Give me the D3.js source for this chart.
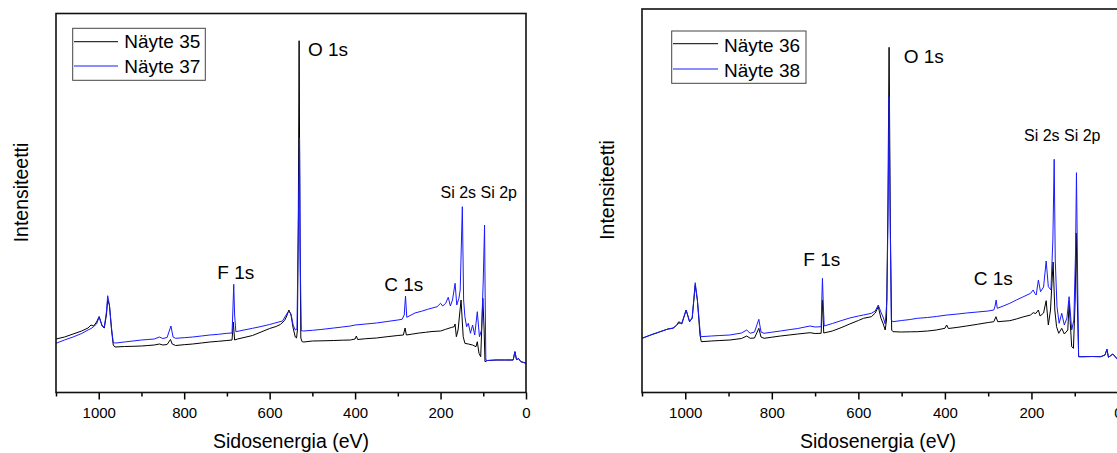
<!DOCTYPE html>
<html><head><meta charset="utf-8">
<script src="https://cdn.jsdelivr.net/npm/d3@7"></script>
<style>
html,body{margin:0;padding:0;background:#fff;}
svg{display:block;font-family:"Liberation Sans",Arial,sans-serif;}
</style></head>
<body>
<svg id="chart" width="1117" height="453"></svg>
<script>
// ---------- DATA (binding energy eV, intensity counts) ----------
const majorTicks = [1000, 800, 600, 400, 200, 0];
const minorTicks = [1100, 900, 700, 500, 300, 100];
const xTitle = "Sidosenergia (eV)";
const yTitle = "Intensiteetti";
const peakNames = ["O 1s", "F 1s", "C 1s", "Si 2s Si 2p"];
const seriesNamesLeft = ["Näyte 35", "Näyte 37"];
const seriesNamesRight = ["Näyte 36", "Näyte 38"];

const sample35 = [[1100,5350],[1080,5550],[1060,5850],[1040,6150],[1025,6450],[1018,6750],[1012,6650],[1005,7050],[999,7600],[992,6650],[987,6450],[982,7750],[979,9250],[975,8750],[970,6250],[966,4750],[962,4550],[940,4600],[920,4620],[900,4650],[885,4700],[870,4750],[858,4850],[850,4750],[840,4800],[832,5300],[828,4850],[820,4700],[800,4780],[780,4850],[760,4950],[740,5050],[720,5120],[700,5200],[688,5250],[685,7050],[682,5250],[675,5350],[660,5500],[640,5700],[620,6050],[600,6400],[585,6600],[575,6800],[565,7200],[560,7650],[555,8250],[550,7750],[545,6450],[540,5550],[537,5450],[535,6250],[533,16250],[531,35180],[529,15250],[527,5450],[524,5080],[520,5050],[500,5150],[475,5170],[450,5200],[430,5230],[411,5250],[400,5350],[397,5650],[394,5300],[375,5380],[350,5450],[325,5580],[300,5700],[287,5750],[283,6450],[280,5750],[265,5850],[250,5950],[235,6020],[220,6100],[200,6150],[188,6320],[175,6500],[168,6580],[166,6850],[163,5580],[159,6250],[152,9250],[147,5580],[143,4920],[135,4850],[125,4750],[117,4580],[114,5080],[110,3920],[106,3580],[101,9420],[98,6250],[96,3080],[90,3200],[70,3250],[50,3250],[30,3250],[26,4080],[22,3250],[18,3420],[12,3080],[5,3000],[0,2920]];

const sample37 = [[1100,4920],[1080,5250],[1060,5550],[1040,5900],[1025,6250],[1016,6450],[1005,6850],[999,7550],[992,6650],[987,6550],[982,8050],[979,9680],[975,8750],[970,6450],[966,4980],[960,4950],[940,5050],[920,5150],[900,5250],[885,5300],[870,5350],[858,5550],[850,5400],[840,5500],[831,6650],[826,5550],[820,5420],[800,5480],[780,5550],[760,5650],[740,5750],[720,5820],[700,5920],[688,5950],[686,8250],[684,10820],[682,7750],[679,6080],[660,6250],[640,6420],[620,6600],[600,6800],[590,6920],[570,7150],[560,7850],[555,8150],[550,7850],[545,6750],[540,6250],[536,6350],[534,13250],[530,25450],[528,12250],[526,6180],[520,6150],[500,6220],[480,6300],[450,6450],[430,6550],[411,6650],[400,6750],[375,6850],[350,6950],[325,7100],[300,7250],[290,7320],[285,7750],[282,9650],[279,7520],[260,7950],[245,8120],[230,8320],[208,8580],[200,8920],[195,8650],[188,8920],[182,9520],[177,8650],[172,9250],[166,10920],[162,8750],[157,9420],[154,10250],[149,18580],[146,9250],[143,7580],[139,6580],[135,6920],[130,5920],[125,6750],[120,5750],[114,8080],[109,5580],[104,6250],[100,11250],[97,16750],[95.5,9250],[94,3250],[90,3200],[70,3250],[50,3250],[30,3250],[26,4080],[22,3250],[18,3420],[12,3080],[5,3000],[0,2920]];

const sample36 = [[1100,5420],[1080,5750],[1060,6050],[1040,6350],[1028,6450],[1020,6720],[1015,7080],[1008,6850],[998,8250],[990,7080],[984,7450],[977,10750],[972,9250],[966,5750],[963,5080],[940,5150],[920,5200],[897,5250],[870,5400],[858,5650],[850,5420],[840,5450],[830,6420],[825,5550],[818,5420],[800,5530],[780,5650],[760,5750],[740,5850],[712,5980],[700,5900],[686,5920],[683,9250],[680,5950],[660,6150],[640,6480],[620,6850],[600,7200],[588,7420],[570,7580],[561,7950],[554,8580],[548,7450],[543,6920],[538,6250],[535,7250],[532,17250],[529,34520],[526,16250],[523,6250],[520,6080],[500,6050],[480,6070],[464,6080],[440,6150],[420,6250],[400,6420],[396,6750],[392,6400],[370,6520],[350,6650],[325,6820],[300,7000],[287,7080],[282,7580],[278,7080],[250,7180],[235,7350],[220,7550],[202,7750],[196,7980],[190,7900],[184,8250],[180,7650],[172,7950],[166,9180],[161,6750],[156,8250],[150,13050],[146,8250],[142,6580],[137,5920],[130,6420],[124,5850],[116,6250],[113,8920],[107,4580],[103,4420],[99,9250],[96.5,15950],[94,9250],[91,3580],[80,3580],[60,3600],[40,3580],[30,3750],[25.6,4320],[22,3520],[12,3850],[1,3320],[0,3300]];

const sample38 = [[1100,5420],[1080,5750],[1060,6050],[1040,6350],[1028,6420],[1015,6920],[1008,6950],[998,8250],[990,7080],[984,7450],[977,10980],[972,9250],[966,6250],[964,5580],[940,5650],[920,5700],[897,5750],[870,5950],[858,6250],[850,5920],[840,6050],[830,7320],[825,6050],[818,5920],[800,6030],[780,6150],[760,6280],[740,6400],[712,6650],[700,6550],[686,6580],[684.5,9250],[683,11420],[681,8750],[679,6650],[660,6900],[640,7180],[620,7450],[600,7650],[588,7750],[570,7920],[561,8150],[554,8750],[548,8050],[542,7450],[538,6850],[534,9250],[531,19250],[529,29580],[527,19250],[524,7250],[520,7080],[500,7200],[480,7300],[464,7420],[440,7500],[420,7600],[395,7750],[370,7850],[350,7950],[325,8050],[300,8150],[287,8250],[284,8650],[281.6,9250],[279,8420],[265,8650],[250,8920],[235,9250],[220,9550],[202,9920],[196,10250],[192,9900],[189,9750],[184,11250],[179,10080],[172,10550],[166,13150],[161,10580],[155,10250],[150.5,15250],[147.5,23320],[145,13250],[141,8580],[136,6920],[130,7920],[124,6750],[118,7450],[113,9580],[107,6250],[102,7250],[98,14250],[96,21980],[93,10250],[91,3580],[80,3580],[60,3600],[40,3580],[30,3750],[25.6,4320],[22,3520],[12,3850],[1,3320],[0,3300]];

// ---------- DRAWING ----------
const svg = d3.select("#chart");
const panels = [
  {x0:56, x1:526, yTop:13.5, yMax:37900, series:[sample35, sample37], names:seriesNamesLeft,
   legend:{x:72.7, y:28.3, w:132.6, h:52, lx0:74, lx1:118, ly:[41.7,66], tx:124.3, ty:[48.3,73.3]},
   ytx:27.5, yty:192.5,
   labels:[[308,56,19],[217.3,279,19],[384.3,290.5,19],[440.5,198,16]]},
  {x0:642, x1:1118, yTop:9, yMax:38350, series:[sample36, sample38], names:seriesNamesRight,
   legend:{x:671.7, y:31, w:134.3, h:52.3, lx0:673, lx1:718, ly:[43.7,69], tx:724, ty:[51.5,76.7]},
   ytx:613.5, yty:190,
   labels:[[903.7,62.5,19],[803.3,266,19],[973.7,285,19],[1024,141,16]]}
];
const colors = ["#000000", "#1a1aff"];
const yBottom = 392.5;

panels.forEach((p, pi) => {
  const x = d3.scaleLinear().domain([1100, 0]).range([p.x0, p.x1]);
  const y = d3.scaleLinear().domain([0, p.yMax]).range([yBottom, p.yTop]);
  const g = svg.append("g");

  const clipId = "clip" + pi;
  svg.append("clipPath").attr("id", clipId).append("rect")
    .attr("x", p.x0).attr("y", p.yTop).attr("width", p.x1 - p.x0).attr("height", yBottom - p.yTop);

  const line = d3.line().x(d => x(d[0])).y(d => y(d[1]));
  p.series.forEach((s, si) => {
    g.append("path").datum(s).attr("d", line)
      .attr("fill", "none").attr("stroke", colors[si]).attr("stroke-width", 1)
      .attr("stroke-linejoin", "round").attr("clip-path", `url(#${clipId})`);
  });

  // axes
  const ax = g.append("g").attr("transform", `translate(0,${yBottom})`)
    .call(d3.axisBottom(x).tickValues(majorTicks).tickSize(7).tickPadding(8).tickFormat(d3.format("d")));
  ax.select(".domain").remove();
  ax.selectAll("line").attr("stroke", "#000").attr("stroke-width", 1.5);
  ax.selectAll("text").attr("font-size", 15).attr("fill", "#000")
    .attr("font-family", "Liberation Sans, Arial, sans-serif");
  const axm = g.append("g").attr("transform", `translate(0,${yBottom})`)
    .call(d3.axisBottom(x).tickValues(minorTicks).tickSize(4).tickFormat(""));
  axm.select(".domain").remove();
  axm.selectAll("line").attr("stroke", "#000").attr("stroke-width", 1.5);

  // frame
  g.append("rect").attr("x", p.x0).attr("y", p.yTop).attr("width", p.x1 - p.x0).attr("height", yBottom - p.yTop)
    .attr("fill", "none").attr("stroke", "#111").attr("stroke-width", 1.6);

  // titles
  g.append("text").attr("x", (p.x0 + p.x1) / 2 - (pi === 1 ? 2 : 0)).attr("y", 448)
    .attr("text-anchor", "middle").attr("font-size", 19.5).attr("fill", "#000").text(xTitle);
  g.append("text").attr("transform", `translate(${p.ytx},${p.yty}) rotate(-90)`)
    .attr("text-anchor", "middle").attr("font-size", 19.5).attr("fill", "#000").text(yTitle);

  // peak labels
  p.labels.forEach((l, li) => {
    g.append("text").attr("x", l[0]).attr("y", l[1]).attr("font-size", l[2]).attr("fill", "#000").text(peakNames[li]);
  });

  // legend
  const L = p.legend;
  g.append("rect").attr("x", L.x).attr("y", L.y).attr("width", L.w).attr("height", L.h)
    .attr("fill", "#fff").attr("stroke", "#444").attr("stroke-width", 1);
  p.names.forEach((n, i) => {
    g.append("line").attr("x1", L.lx0).attr("x2", L.lx1).attr("y1", L.ly[i]).attr("y2", L.ly[i])
      .attr("stroke", colors[i]).attr("stroke-width", 1);
    g.append("text").attr("x", L.tx).attr("y", L.ty[i]).attr("font-size", 19).attr("fill", "#000").text(n);
  });
});
</script>
</body></html>
